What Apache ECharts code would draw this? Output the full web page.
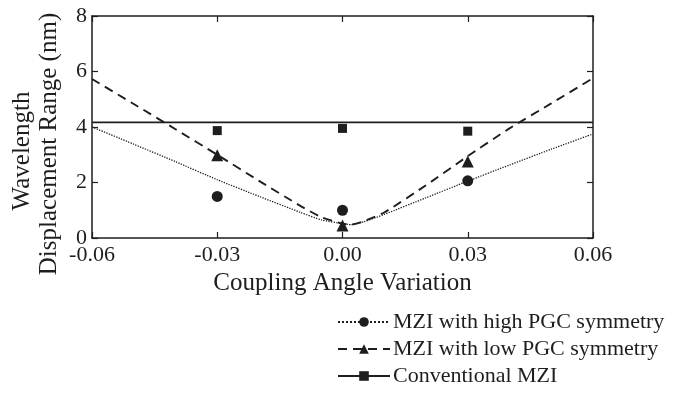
<!DOCTYPE html>
<html>
<head>
<meta charset="utf-8">
<script src="https://cdn.jsdelivr.net/npm/echarts@6/dist/echarts.min.js"></script>
<style>
  html, body { margin: 0; padding: 0; background: #fff; }
  #chart { width: 688px; height: 394px; }
</style>
</head>
<body>
<div id="chart"></div>
<script>
// fitted curves
var curveX = [-0.06, -0.05, -0.04, -0.03, -0.02, -0.01, -0.005, 0, 0.002, 0.005, 0.01, 0.02, 0.03, 0.04, 0.05, 0.06];
var highCurve = [4.0, 3.38, 2.75, 2.1, 1.5, 0.92, 0.65, 0.52, 0.48, 0.58, 0.85, 1.45, 2.05, 2.63, 3.2, 3.75];
var lowCurve = [5.73, 4.83, 3.92, 3.0, 2.06, 1.15, 0.75, 0.52, 0.48, 0.6, 0.92, 1.9, 2.95, 3.95, 4.85, 5.76];
var convX = [-0.06, 0.06];
var convLine = [4.17, 4.17];

// measured points
var markX = [-0.03, 0, 0.03];
var highMarks = [1.5, 1.0, 2.06];
var lowMarks = [2.98, 0.45, 2.76];
var convMarks = [3.87, 3.95, 3.85];

var names = ['MZI with high PGC symmetry', 'MZI with low PGC symmetry', 'Conventional MZI'];
var yTitle = ['Wavelength', 'Displacement Range (nm)'];
var xTitle = 'Coupling Angle Variation';

var ink = '#1e1e1e';
var serif = '"Liberation Serif", "Times New Roman", serif';

function pairs(xs, ys) {
    var out = [];
    for (var i = 0; i < xs.length; i++) {
        out.push([xs[i], ys[i]]);
    }
    return out;
}

function lineSeries(name, xs, ys, sym, lineStyle) {
    return {
        name: name,
        type: 'line',
        data: pairs(xs, ys),
        symbol: sym,
        showSymbol: false,
        smooth: 0.2,
        lineStyle: lineStyle,
        itemStyle: { color: ink, opacity: 1 },
        silent: true,
        z: 2
    };
}

function markSeries(name, ys, sym, size) {
    return {
        name: name,
        type: 'scatter',
        data: pairs(markX, ys),
        symbol: sym,
        symbolSize: size,
        itemStyle: { color: ink, opacity: 1 },
        z: 3
    };
}

var tickFmt = function (v) {
    if (Math.abs(v) < 1e-9) return '0.00';
    return v.toFixed(2);
};

// frame line + inside ticks, shared by all four sides
function frameLine() {
    return { show: true, onZero: false, lineStyle: { color: ink, width: 1.5 } };
}
function frameTick() {
    return { show: true, inside: true, length: 6, lineStyle: { color: ink, width: 1.2 } };
}

var option = {
    backgroundColor: '#fff',
    animation: false,
    textStyle: { fontFamily: serif, color: ink },
    grid: { left: 92, right: 95, top: 16, bottom: 156 },
    xAxis: [
        {
            type: 'value',
            min: -0.06, max: 0.06, interval: 0.03,
            name: xTitle,
            nameLocation: 'middle',
            nameGap: 32,
            nameTextStyle: { fontSize: 25, fontFamily: serif, color: ink },
            axisLine: frameLine(),
            axisTick: frameTick(),
            axisLabel: { fontSize: 22, fontFamily: serif, color: ink, margin: 6, formatter: tickFmt },
            splitLine: { show: false }
        },
        {
            type: 'value', position: 'top',
            min: -0.06, max: 0.06, interval: 0.03,
            axisLine: frameLine(),
            axisTick: frameTick(),
            axisLabel: { show: false },
            splitLine: { show: false }
        }
    ],
    yAxis: [
        {
            type: 'value',
            min: 0, max: 8, interval: 2,
            axisLine: frameLine(),
            axisTick: frameTick(),
            axisLabel: { fontSize: 22, fontFamily: serif, color: ink, margin: 5 },
            splitLine: { show: false }
        },
        {
            type: 'value', position: 'right',
            min: 0, max: 8, interval: 2,
            axisLine: frameLine(),
            axisTick: frameTick(),
            axisLabel: { show: false },
            splitLine: { show: false }
        }
    ],
    legend: {
        orient: 'vertical',
        left: 337,
        top: 311,
        padding: 0,
        itemWidth: 52,
        itemHeight: 12,
        itemGap: 5,
        data: names,
        selectedMode: false,
        textStyle: { fontSize: 22, fontFamily: serif, color: ink, padding: [0, 0, 0, -2] }
    },
    graphic: [
        {
            type: 'text', x: 22, y: 151, rotation: Math.PI / 2,
            style: { text: yTitle[0], font: '25px ' + serif, fill: ink, align: 'center', verticalAlign: 'middle' }
        },
        {
            type: 'text', x: 49, y: 144, rotation: Math.PI / 2,
            style: { text: yTitle[1], font: '25px ' + serif, fill: ink, align: 'center', verticalAlign: 'middle' }
        }
    ],
    series: [
        lineSeries(names[0], curveX, highCurve, 'circle', { color: ink, width: 1.3, type: 'dotted' }),
        lineSeries(names[1], curveX, lowCurve, 'triangle', { color: ink, width: 1.9, type: [9, 6] }),
        lineSeries(names[2], convX, convLine, 'rect', { color: ink, width: 1.8, type: 'solid' }),
        markSeries(names[0], highMarks, 'circle', 11),
        markSeries(names[1], lowMarks, 'triangle', 12),
        markSeries(names[2], convMarks, 'rect', 9)
    ]
};

var chart = echarts.init(document.getElementById('chart'));
chart.setOption(option);
</script>
</body>
</html>
